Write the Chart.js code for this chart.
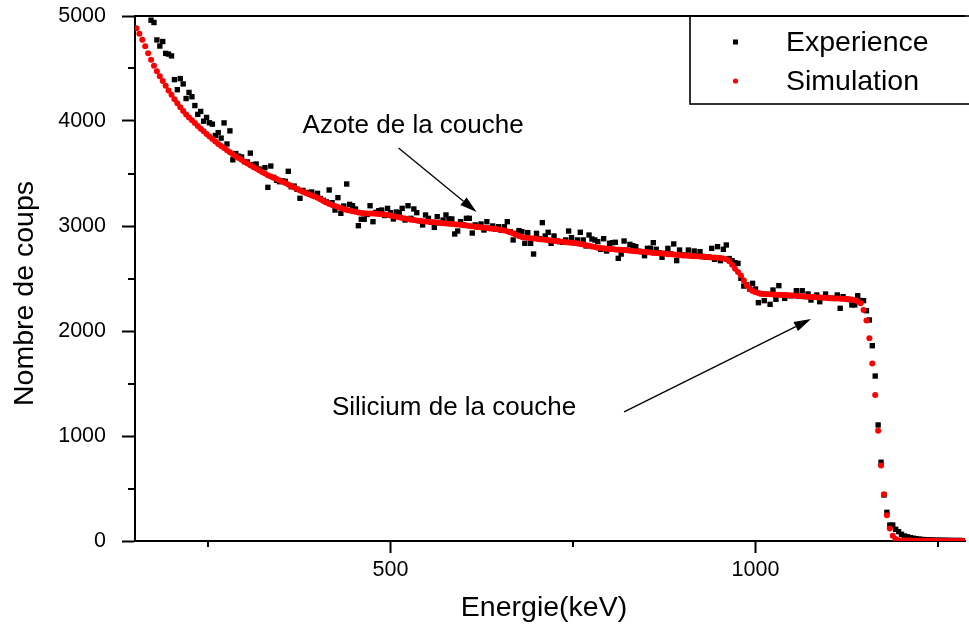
<!DOCTYPE html>
<html lang="fr">
<head>
  <meta charset="UTF-8">
  <title>Spectre RBS - Experience / Simulation</title>
  <script src="https://cdn.jsdelivr.net/npm/chart.js"></script>
  <style>
    body { margin: 0; background: #fff; }
    canvas { display: block; }
  </style>
</head>
<body>
<canvas id="spectrum" width="969" height="630"></canvas>
<script>
  // channel energies (keV)
  const energy = [
    152,156,160,164,168,172,176,180,184,188,
    192,196,200,204,208,212,216,220,224,228,
    232,236,240,244,248,252,256,260,264,268,
    272,276,280,284,288,292,296,300,304,308,
    312,316,320,324,328,332,336,340,344,348,
    352,356,360,364,368,372,376,380,384,388,
    392,396,400,404,408,412,416,420,424,428,
    432,436,440,444,448,452,456,460,464,468,
    472,476,480,484,488,492,496,500,504,508,
    512,516,520,524,528,532,536,540,544,548,
    552,556,560,564,568,572,576,580,584,588,
    592,596,600,604,608,612,616,620,624,628,
    632,636,640,644,648,652,656,660,664,668,
    672,676,680,684,688,692,696,700,704,708,
    712,716,720,724,728,732,736,740,744,748,
    752,756,760,764,768,772,776,780,784,788,
    792,796,800,804,808,812,816,820,824,828,
    832,836,840,844,848,852,856,860,864,868,
    872,876,880,884,888,892,896,900,904,908,
    912,916,920,924,928,932,936,940,944,948,
    952,956,960,964,968,972,976,980,984,988,
    992,996,1000,1004,1008,1012,1016,1020,1024,1028,
    1032,1036,1040,1044,1048,1052,1056,1060,1064,1068,
    1072,1076,1080,1084,1088,1092,1096,1100,1104,1108,
    1112,1116,1120,1124,1128,1132,1136,1140,1144,1148,
    1152,1156,1160,1164,1168,1172,1176,1180,1184,1188,
    1192,1196,1200,1204,1208,1212,1216,1220,1224,1228,
    1232,1236,1240,1244,1248,1252,1256,1260,1264,1268,
    1272,1276,1280,1284
  ];

  // measured counts (null = above the plotted range)
  const experience = [
    null,null,null,null,null,4960,4938,4772,4714,4757,
    4644,4637,4620,4394,4298,4404,4353,4214,4272,4231,
    4147,4063,4091,3998,4034,3983,3970,3862,3889,3837,
    3982,3781,3906,3630,3690,3665,3657,3613,3610,3694,
    3585,3590,3543,3530,3556,3368,3571,3463,3435,3422,
    3430,3425,3521,3374,3380,3349,3264,3339,3320,3317,
    3324,3290,3311,3262,3245,3230,3343,3222,3152,3270,
    3121,3190,3400,3206,3193,3162,3003,3064,3064,3110,
    3193,3041,3130,3146,3152,3100,3168,3127,3067,3133,
    3127,3168,3057,3193,3073,3162,3127,3050,3010,3105,
    3073,3035,2987,3089,3030,3057,3105,3067,3067,2924,
    2952,3041,3010,3073,3073,2933,3010,2990,3019,2962,
    3041,2980,3000,2970,2993,2960,2993,3041,2946,2867,
    2930,2956,2946,2835,2937,2835,2733,2930,2880,3032,
    2905,2940,2835,2905,2858,2851,2845,2867,2952,2889,
    2840,2867,2940,2867,2810,2914,2876,2867,2851,2778,
    2879,2762,2835,2841,2845,2692,2733,2857,2771,2825,
    2813,2803,2760,2756,2717,2787,2787,2841,2778,2745,
    2702,2740,2787,2735,2829,2670,2771,2725,2720,2771,
    2718,2762,2715,2756,2710,2702,2705,2787,2683,2803,
    2670,2778,2819,2690,2670,2651,2644,2502,2428,2440,
    2400,2454,2400,2270,2355,2289,2350,2254,2390,2302,
    2432,2345,2311,2340,2335,2338,2384,2330,2384,2328,
    2352,2295,2324,2343,2279,2318,2352,2315,2310,2312,
    2343,2216,2327,2305,2300,2248,2248,2336,2290,2289,
    2193,2105,1860,1571,1105,750,438,273,152,152,
    111,89,64,48,40,33,27,22,18,15,
    13,11,10,9,8,8,7,7,6,6,
    5,5,5,4
  ];

  // simulated counts
  const simulation = [
    4883,4830,4775,4712,4646,4583,4527,4473,4426,4380,
    4335,4291,4249,4208,4169,4131,4096,4062,4034,4007,
    3980,3953,3927,3902,3877,3852,3828,3805,3782,3762,
    3742,3722,3702,3683,3664,3647,3630,3613,3596,3579,
    3563,3547,3531,3515,3499,3484,3471,3459,3447,3434,
    3421,3409,3395,3381,3367,3353,3339,3326,3314,3303,
    3291,3280,3268,3254,3239,3225,3210,3200,3190,3181,
    3171,3162,3153,3147,3141,3135,3129,3123,3121,3120,
    3119,3118,3116,3114,3112,3110,3105,3099,3094,3089,
    3083,3077,3072,3066,3060,3056,3052,3049,3046,3043,
    3041,3038,3035,3032,3030,3027,3024,3022,3019,3016,
    3014,3011,3008,3004,3000,2997,2993,2990,2987,2984,
    2981,2977,2974,2971,2967,2962,2957,2951,2941,2928,
    2916,2905,2896,2890,2887,2884,2881,2878,2875,2871,
    2868,2864,2861,2858,2854,2852,2849,2846,2844,2841,
    2838,2834,2829,2823,2817,2811,2805,2799,2794,2790,
    2787,2784,2782,2780,2777,2775,2773,2771,2768,2765,
    2763,2760,2757,2755,2752,2749,2747,2744,2742,2740,
    2737,2735,2732,2730,2728,2725,2723,2720,2718,2716,
    2714,2713,2711,2709,2707,2705,2703,2701,2699,2697,
    2695,2690,2684,2665,2632,2594,2562,2528,2482,2436,
    2402,2381,2369,2361,2355,2352,2351,2349,2348,2346,
    2345,2344,2342,2341,2339,2337,2335,2333,2331,2329,
    2327,2325,2323,2321,2319,2317,2316,2314,2312,2310,
    2309,2307,2306,2304,2303,2300,2294,2283,2265,2200,
    2100,1930,1690,1390,1050,720,445,245,120,51,
    18,8,5,4,4,3,3,3,2,2,
    2,2,2,2,2,1,1,1,1,1,
    1,1,1,1
  ];

  const xTicks = [250, 500, 750, 1000, 1250];
  const xLabels = [500, 1000];
  const yTicks = [0, 500, 1000, 1500, 2000, 2500, 3000, 3500, 4000, 4500, 5000];
  const yLabels = [0, 1000, 2000, 3000, 4000, 5000];

  // text annotations, anchored in data units (keV, counts)
  const notes = [
    { text: 'Azote de la couche', x: 531, y: 3883, from: [511, 3743], to: [618, 3133] },
    { text: 'Silicium de la couche', x: 587, y: 1200, from: [820, 1229], to: [1076, 2114] }
  ];

  const FONT = "'Liberation Sans', Arial, sans-serif";
  Chart.defaults.font.family = FONT;
  Chart.defaults.color = '#000';

  const expPoints = energy.map((e, i) => ({ x: e, y: experience[i] })).filter(p => p.y !== null);
  const simPoints = energy.map((e, i) => ({ x: e, y: simulation[i] }));

  function arrow(ctx, x1, y1, x2, y2) {
    const ang = Math.atan2(y2 - y1, x2 - x1);
    const len = 17, half = 5;
    const bx = x2 - len * Math.cos(ang), by = y2 - len * Math.sin(ang);
    ctx.beginPath();
    ctx.moveTo(x1, y1);
    ctx.lineTo(bx, by);
    ctx.stroke();
    ctx.beginPath();
    ctx.moveTo(x2, y2);
    ctx.lineTo(bx + half * Math.sin(ang), by - half * Math.cos(ang));
    ctx.lineTo(bx - half * Math.sin(ang), by + half * Math.cos(ang));
    ctx.closePath();
    ctx.fill();
  }

  const overlay = {
    id: 'overlay',
    afterDraw(chart) {
      const { ctx, chartArea: a, scales: { x, y } } = chart;
      ctx.save();
      ctx.strokeStyle = '#000';
      ctx.fillStyle = '#000';

      // top frame line
      ctx.lineWidth = 2;
      ctx.beginPath();
      ctx.moveTo(a.left - 1, a.top);
      ctx.lineTo(a.right, a.top);
      ctx.stroke();

      // minor ticks
      ctx.beginPath();
      xTicks.filter(v => !xLabels.includes(v)).forEach(v => {
        const px = Math.round(x.getPixelForValue(v));
        ctx.moveTo(px, a.bottom);
        ctx.lineTo(px, a.bottom + 6);
      });
      yTicks.filter(v => !yLabels.includes(v)).forEach(v => {
        const py = Math.round(y.getPixelForValue(v));
        ctx.moveTo(a.left, py);
        ctx.lineTo(a.left - 7, py);
      });
      ctx.stroke();

      // legend box
      const lx = a.left + 555, ly = a.top;
      ctx.lineWidth = 1.6;
      ctx.strokeRect(lx, ly, 400, 88);
      ctx.font = '28.5px ' + FONT;
      ctx.textAlign = 'left';
      ctx.textBaseline = 'middle';
      chart.data.datasets.forEach((ds, i) => {
        const cy = ly + 26 + i * 39;
        ctx.fillStyle = ds.pointBackgroundColor;
        if (ds.pointStyle === 'rect') {
          ctx.fillRect(lx + 43, cy - 2.5, 5, 5);
        } else {
          ctx.beginPath();
          ctx.arc(lx + 45.5, cy, 2.6, 0, Math.PI * 2);
          ctx.fill();
        }
        ctx.fillStyle = '#000';
        ctx.fillText(ds.label, lx + 96, cy + 1);
      });

      // annotations
      ctx.font = '26px ' + FONT;
      ctx.textAlign = 'center';
      ctx.textBaseline = 'alphabetic';
      ctx.lineWidth = 1.3;
      notes.forEach(n => {
        ctx.fillText(n.text, x.getPixelForValue(n.x), y.getPixelForValue(n.y));
        arrow(ctx,
          x.getPixelForValue(n.from[0]), y.getPixelForValue(n.from[1]),
          x.getPixelForValue(n.to[0]), y.getPixelForValue(n.to[1]));
      });

      // axis titles
      ctx.font = '28.5px ' + FONT;
      ctx.fillText('Energie(keV)', a.left + 409, 616);
      ctx.translate(33, (a.top + a.bottom) / 2 + 15);
      ctx.rotate(-Math.PI / 2);
      ctx.fillText('Nombre de coups', 0, 0);
      ctx.restore();
    }
  };

  new Chart(document.getElementById('spectrum'), {
    type: 'scatter',
    data: {
      datasets: [
        {
          label: 'Experience',
          data: expPoints,
          pointStyle: 'rect',
          pointRadius: 3.8,
          pointBackgroundColor: '#000000',
          pointBorderWidth: 0,
          showLine: false,
          order: 2
        },
        {
          label: 'Simulation',
          data: simPoints,
          pointStyle: 'circle',
          pointRadius: 3,
          pointBackgroundColor: '#ff0000',
          pointBorderWidth: 0,
          showLine: false,
          order: 1
        }
      ]
    },
    options: {
      responsive: false,
      animation: false,
      events: [],
      layout: { padding: { top: 16, right: 0, bottom: 0, left: 0 } },
      plugins: {
        legend: { display: false },
        tooltip: { enabled: false }
      },
      scales: {
        x: {
          type: 'linear',
          min: 150,
          max: 1287,
          afterBuildTicks: s => { s.ticks = xTicks.map(v => ({ value: v })); },
          afterFit: s => { s.height = 89; s.paddingLeft = 0; s.paddingRight = 0; },
          ticks: {
            callback: v => xLabels.includes(v) ? String(v) : '',
            font: { size: 21.5 },
            padding: 4,
            autoSkip: false,
            maxRotation: 0
          },
          grid: {
            drawOnChartArea: false,
            tickLength: 12,
            tickWidth: 2,
            tickColor: c => xLabels.includes(c.tick.value) ? '#000' : 'rgba(0,0,0,0)'
          },
          border: { color: '#000', width: 2 }
        },
        y: {
          type: 'linear',
          min: 0,
          max: 5000,
          afterBuildTicks: s => { s.ticks = yTicks.map(v => ({ value: v })); },
          afterFit: s => { s.width = 135; s.paddingTop = 0; s.paddingBottom = 0; },
          ticks: {
            callback: v => yLabels.includes(v) ? String(v) : '',
            font: { size: 21.5 },
            padding: 16,
            autoSkip: false
          },
          grid: {
            drawOnChartArea: false,
            tickLength: 13,
            tickWidth: 2,
            tickColor: c => yLabels.includes(c.tick.value) ? '#000' : 'rgba(0,0,0,0)'
          },
          border: { color: '#000', width: 2 }
        }
      }
    },
    plugins: [overlay]
  });
</script>
</body>
</html>
